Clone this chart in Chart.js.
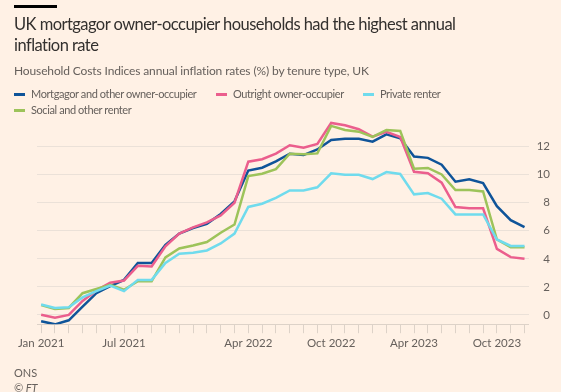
<!DOCTYPE html>
<html>
<head>
<meta charset="utf-8">
<script src="https://cdn.jsdelivr.net/npm/chart.js@4"></script>
<style>
  html, body { margin:0; padding:0; }
  body { width:561px; height:392px; background:#fff1e5; position:relative; overflow:hidden; font-family:"Lato","Open Sans",sans-serif; }
  #bar { position:absolute; left:14px; top:5px; width:43px; height:3px; background:#000; }
  #title { position:absolute; left:14px; top:14px; width:540px; font-size:16.5px; letter-spacing:-0.55px; line-height:20.5px; color:#33302e; }
  #subtitle { position:absolute; left:14px; top:63px; font-size:12px; letter-spacing:-0.13px; color:#66605c; }
  .leg { position:absolute; font-size:11px; letter-spacing:-0.4px; color:#66605c; white-space:nowrap; line-height:14px; }
  .sw { display:inline-block; width:11px; height:3px; vertical-align:middle; margin-right:6px; position:relative; top:-1px; }
  #src { position:absolute; left:14px; top:365px; font-size:11px; color:#66605c; line-height:15px; }
  #wrap { position:absolute; left:0; top:0; width:561px; height:392px; }
</style>
</head>
<body>
<div id="wrap"><canvas id="c"></canvas></div>
<div id="bar"></div>
<div id="title">UK mortgagor owner-occupier households had the highest annual<br>inflation rate</div>
<div id="subtitle">Household Costs Indices annual inflation rates (%) by tenure type, UK</div>
<div class="leg" style="left:14px;top:87px;"><span class="sw" style="background:#0f5499"></span>Mortgagor and other owner-occupier</div>
<div class="leg" style="left:216px;top:87px;"><span class="sw" style="background:#eb5e8d"></span>Outright owner-occupier</div>
<div class="leg" style="left:363px;top:87px;"><span class="sw" style="background:#70dbed"></span>Private renter</div>
<div class="leg" style="left:14px;top:103px;"><span class="sw" style="background:#9dc35a"></span>Social and other renter</div>
<div id="src">ONS<br><i>© FT</i></div>
<script>
const months = ['Jan 2021','Feb 2021','Mar 2021','Apr 2021','May 2021','Jun 2021','Jul 2021','Aug 2021','Sep 2021','Oct 2021','Nov 2021','Dec 2021',
  'Jan 2022','Feb 2022','Mar 2022','Apr 2022','May 2022','Jun 2022','Jul 2022','Aug 2022','Sep 2022','Oct 2022','Nov 2022','Dec 2022',
  'Jan 2023','Feb 2023','Mar 2023','Apr 2023','May 2023','Jun 2023','Jul 2023','Aug 2023','Sep 2023','Oct 2023','Nov 2023','Dec 2023'];
const tickLabels = ['Jan 2021','Jul 2021','Apr 2022','Oct 2022','Apr 2023','Oct 2023'];
const yTicks = [0,2,4,6,8,10,12];

const mortgagor = [-0.45,-0.67,-0.38,0.6,1.55,2.05,2.5,3.7,3.7,5.0,5.8,6.2,6.5,7.2,8.1,10.3,10.5,10.95,11.5,11.4,11.8,12.48,12.57,12.57,12.36,12.88,12.6,11.29,11.2,10.71,9.5,9.67,9.4,7.76,6.76,6.26];
const outright  = [0.02,-0.2,0.0,1.0,1.75,2.3,2.45,3.5,3.45,4.9,5.8,6.25,6.6,7.1,8.0,10.93,11.1,11.5,12.1,11.93,12.19,13.69,13.52,13.24,12.71,13.05,12.69,10.21,10.1,9.43,7.69,7.6,7.6,4.71,4.12,4.0];
const privateRenter = [0.75,0.5,0.55,1.25,1.7,2.1,1.7,2.5,2.5,3.7,4.36,4.43,4.6,5.1,5.8,7.7,7.93,8.35,8.88,8.88,9.1,10.1,10.0,10.0,9.69,10.19,10.05,8.6,8.69,8.29,7.17,7.17,7.17,5.38,4.92,4.92];
const social    = [0.7,0.43,0.5,1.55,1.85,2.15,1.8,2.4,2.4,4.1,4.74,4.95,5.2,5.86,6.45,9.9,10.07,10.4,11.5,11.45,11.52,13.48,13.19,13.07,12.69,13.19,13.12,10.43,10.48,10.02,8.9,8.9,8.81,5.38,4.83,4.83];

const seriesNames = ['Private renter','Social and other renter','Outright owner-occupier','Mortgagor and other owner-occupier'];
const seriesData = [privateRenter, social, outright, mortgagor];
const seriesColors = ['#70dbed','#9dc35a','#eb5e8d','#0f5499'];

const toPts = arr => arr.map((v,i)=>({x:i,y:v}));

new Chart(document.getElementById('c'), {
  type:'line',
  data:{ datasets: seriesData.map((d,k)=>({
    label: seriesNames[k], data: toPts(d), borderColor: seriesColors[k], backgroundColor: seriesColors[k],
    borderWidth: 2.5, pointRadius: 0, tension: 0, fill:false, borderJoinStyle:'miter'
  }))},
  options:{
    responsive:true, maintainAspectRatio:false, animation:false,
    layout:{ padding:{ top:120, left:37, right:11, bottom:39 } },
    plugins:{ legend:{display:false}, tooltip:{enabled:false} },
    scales:{
      x:{ type:'linear', min:-0.3, max:35.3,
        afterBuildTicks: s => { s.ticks = months.map((m,i)=>({value:i})); },
        ticks:{ autoSkip:false, maxRotation:0, padding:3, color:'#66605c', font:{family:'Lato', size:11.5},
          callback: v => tickLabels.includes(months[v]) ? months[v] : '' },
        grid:{ drawOnChartArea:false, drawTicks:true, tickLength:9, color:'#ddd2c8' },
        border:{ display:true, color:'#ddd2c8' }
      },
      y:{ position:'right', min:-0.66, max:13.9,
        afterBuildTicks: s => { s.ticks = yTicks.map(v=>({value:v})); },
        ticks:{ padding:4, crossAlign:'far', color:'#66605c', font:{family:'Lato', size:11.5} },
        grid:{ drawTicks:false, color:'#ebe1d8' },
        border:{ display:false }
      }
    }
  }
});
</script>
</body>
</html>
